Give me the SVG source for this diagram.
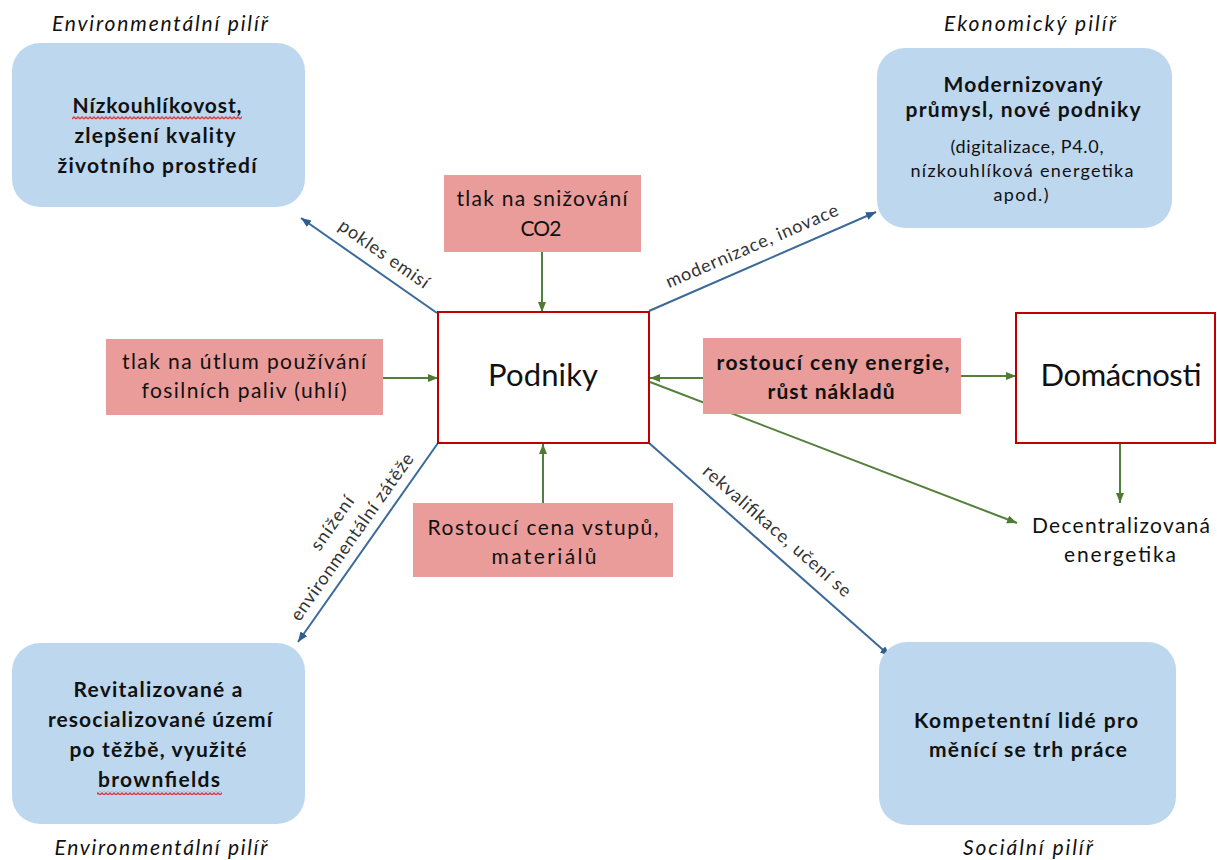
<svg xmlns="http://www.w3.org/2000/svg" width="1217" height="860" viewBox="0 0 1217 860">
<style>
text{font-family:Lato,"Liberation Sans",sans-serif;fill:#111;text-anchor:middle}
.b{font-weight:bold;font-size:21px}
.p{font-size:21px}
.s{font-size:18px}
.i{font-style:italic;font-size:21px}
.big{font-size:31px}
.lbl{font-size:18px;fill:#333}
.blue{fill:#BDD7EE}
.pink{fill:#EA9C9A}
.red{fill:#fff;stroke:#C00000;stroke-width:2}
.cb{stroke:#3B6A98;stroke-width:2;fill:none;marker-end:url(#ab)}
.cg{stroke:#53803A;stroke-width:2;fill:none;marker-end:url(#ag)}
</style>
<defs>
<marker id="ab" markerUnits="userSpaceOnUse" markerWidth="11" markerHeight="9" refX="10" refY="4" orient="auto"><path d="M0,0 L10,4 L0,8 z" fill="#2F5E8E"/></marker>
<marker id="ag" markerUnits="userSpaceOnUse" markerWidth="11" markerHeight="9" refX="10" refY="4" orient="auto"><path d="M0,0 L10,4 L0,8 z" fill="#4E7A32"/></marker>
<pattern id="sq" width="4" height="4" patternUnits="userSpaceOnUse"><path d="M0,3 L2,1 L4,3" stroke="#E03838" stroke-width="1.3" fill="none"/></pattern>
</defs>
<rect width="1217" height="860" fill="#fff"/>

<g id="connectors">
<line class="cb" x1="437" y1="313" x2="301" y2="218"/>
<line class="cb" x1="649" y1="311" x2="876" y2="212"/>
<line class="cb" x1="438" y1="443" x2="298" y2="642"/>
<line class="cb" x1="649" y1="443" x2="890" y2="656"/>
<line class="cg" x1="542" y1="252" x2="542" y2="312"/>
<line class="cg" x1="383" y1="378" x2="438" y2="378"/>
<line class="cg" x1="703" y1="378" x2="650" y2="378"/>
<line class="cg" x1="961" y1="376" x2="1016" y2="376"/>
<line class="cg" x1="543" y1="503" x2="543" y2="444"/>
<line class="cg" x1="1120" y1="443" x2="1120" y2="503"/>
<line class="cg" x1="650" y1="382" x2="1017" y2="523"/>
<g transform="translate(384,254) rotate(35)"><text class="lbl" y="6" textLength="106" lengthAdjust="spacing">pokles emisí</text></g>
<g transform="translate(752,246) rotate(-23.3)"><text class="lbl" y="6" textLength="186" lengthAdjust="spacing">modernizace, inovace</text></g>
<g transform="translate(352,537) rotate(-54.9)"><text class="lbl" y="-18" textLength="62" lengthAdjust="spacing">snížení</text><text class="lbl" y="6" textLength="200" lengthAdjust="spacing">environmentální zátěže</text></g>
<g transform="translate(777,531) rotate(41.1)"><text class="lbl" y="6" textLength="190" lengthAdjust="spacing">rekvalifikace, učení se</text></g>
</g>

<g id="env-top">
<text class="i" x="160" y="31" textLength="216" lengthAdjust="spacing">Environmentální pilíř</text>
<rect class="blue" x="12" y="43" width="293" height="164" rx="28"/>
<text class="b" x="157" y="113" textLength="169" lengthAdjust="spacing">Nízkouhlíkovost,</text>
<rect x="72" y="116" width="170" height="4" fill="url(#sq)"/>
<text class="b" x="155" y="143" textLength="161" lengthAdjust="spacing">zlepšení kvality</text>
<text class="b" x="157" y="173" textLength="199" lengthAdjust="spacing">životního prostředí</text>
</g>

<g id="eko-top">
<text class="i" x="1030" y="31" textLength="172" lengthAdjust="spacing">Ekonomický pilíř</text>
<rect class="blue" x="877" y="48" width="295" height="180" rx="28"/>
<text class="b" x="1023" y="92" textLength="159" lengthAdjust="spacing">Modernizovaný</text>
<text class="b" x="1023" y="117" textLength="235" lengthAdjust="spacing">průmysl, nové podniky</text>
<text class="s" x="1027" y="153" textLength="153" lengthAdjust="spacing">(digitalizace, P4.0,</text>
<text class="s" x="1022" y="177" textLength="223" lengthAdjust="spacing">nízkouhlíková energetika</text>
<text class="s" x="1021" y="201" textLength="55" lengthAdjust="spacing">apod.)</text>
</g>

<g id="co2">
<rect class="pink" x="444" y="175" width="197" height="77"/>
<text class="p" x="542" y="206" textLength="171" lengthAdjust="spacing">tlak na snižování</text>
<text class="p" x="541" y="236" textLength="41" lengthAdjust="spacing">CO2</text>
</g>

<g id="fosil">
<rect class="pink" x="106" y="339" width="277" height="76"/>
<text class="p" x="244" y="369" textLength="244" lengthAdjust="spacing">tlak na útlum používání</text>
<text class="p" x="244" y="398" textLength="205" lengthAdjust="spacing">fosilních paliv (uhlí)</text>
</g>

<g id="podniky">
<rect class="red" x="438" y="312" width="211" height="131"/>
<text class="big" x="543" y="386" textLength="110" lengthAdjust="spacing">Podniky</text>
</g>

<g id="ceny">
<rect class="pink" x="703" y="338" width="258" height="76"/>
<text class="b" x="833" y="370" textLength="233" lengthAdjust="spacing">rostoucí ceny energie,</text>
<text class="b" x="831" y="399" textLength="127" lengthAdjust="spacing">růst nákladů</text>
</g>

<g id="domacnosti">
<rect class="red" x="1016" y="313" width="199" height="130"/>
<text class="big" x="1121" y="386" textLength="161" lengthAdjust="spacing">Domácnosti</text>
</g>

<g id="vstupy">
<rect class="pink" x="413" y="503" width="260" height="74"/>
<text class="p" x="543" y="535" textLength="231" lengthAdjust="spacing">Rostoucí cena vstupů,</text>
<text class="p" x="544" y="564" textLength="105" lengthAdjust="spacing">materiálů</text>
</g>

<g id="decentral">
<text class="p" x="1121" y="533" textLength="178" lengthAdjust="spacing">Decentralizovaná</text>
<text class="p" x="1120" y="562" textLength="112" lengthAdjust="spacing">energetika</text>
</g>

<g id="env-bottom">
<rect class="blue" x="12" y="643" width="293" height="181" rx="28"/>
<text class="b" x="158" y="697" textLength="169" lengthAdjust="spacing">Revitalizované a</text>
<text class="b" x="160" y="727" textLength="224" lengthAdjust="spacing">resocializované území</text>
<text class="b" x="158" y="757" textLength="177" lengthAdjust="spacing">po těžbě, využité</text>
<text class="b" x="159" y="787" textLength="122" lengthAdjust="spacing">brownfields</text>
<rect x="97" y="791" width="125" height="4" fill="url(#sq)"/>
<text class="i" x="161" y="855" textLength="213" lengthAdjust="spacing">Environmentální pilíř</text>
</g>

<g id="soc-bottom">
<rect class="blue" x="879" y="642" width="297" height="183" rx="28"/>
<text class="b" x="1026" y="728" textLength="224" lengthAdjust="spacing">Kompetentní lidé pro</text>
<text class="b" x="1028" y="757" textLength="198" lengthAdjust="spacing">měnící se trh práce</text>
<text class="i" x="1028" y="855" textLength="130" lengthAdjust="spacing">Sociální pilíř</text>
</g>
</svg>
